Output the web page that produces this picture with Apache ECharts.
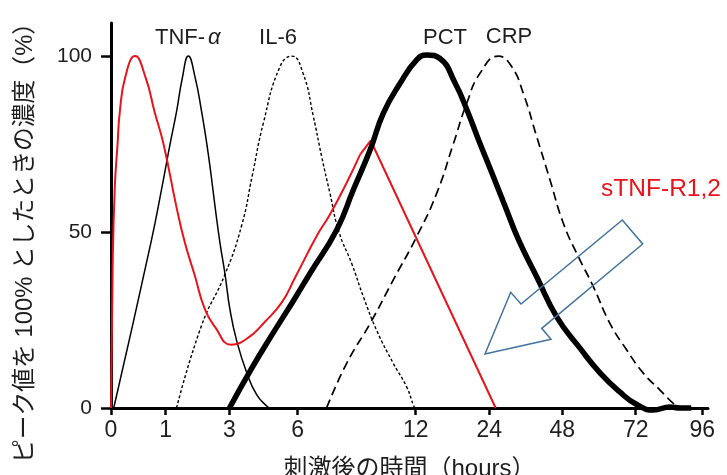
<!DOCTYPE html>
<html>
<head>
<meta charset="utf-8">
<script src="https://cdn.jsdelivr.net/npm/echarts@6/dist/echarts.min.js"></script>
<style>
  html, body { margin: 0; padding: 0; background: #ffffff; }
  #chart { width: 727px; height: 475px; }
</style>
</head>
<body>
<div id="chart"></div>
<script>
// Time after stimulation (hours) shown on the axis
const hourTicks = [0, 1, 3, 6, 12, 24, 48, 72, 96];
const yTicks = [0, 50, 100];

// Concentration relative to peak (%), as [hours, percent]
const sTnfR = [
  [0, 0], [0.03, 40], [0.07, 63], [0.12, 75], [0.16, 84], [0.26, 94], [0.44, 100],
  [0.63, 94], [0.80, 84], [0.96, 75], [1.34, 57], [1.6, 47], [1.9, 38],
  [2.23, 28], [2.55, 23], [3.07, 18], [3.83, 20], [4.56, 24.5], [5.3, 30], [5.88, 37],
  [6.98, 49], [7.64, 55], [8.49, 64], [9.17, 72], [9.71, 76], [26.1, 0]
];
const sTnfRKink = 23; // from here on the curve is drawn as straight segments

const tnfAlpha = [
  [0.05, 0], [0.73, 47], [0.94, 63.4], [1.13, 74.7], [1.34, 84.2], [1.52, 93.7],
  [1.71, 100], [1.92, 94], [2.13, 84], [2.29, 75], [2.44, 65], [2.55, 57], [2.7, 47],
  [2.86, 38], [3.02, 28], [3.32, 19], [3.76, 10], [4.2, 3.7], [4.65, 0.5], [4.78, 0]
];

const il6 = [
  [1.34, 0], [2.13, 23.6], [2.86, 38], [3.54, 52], [4.0, 66], [4.49, 81], [5.22, 97],
  [5.74, 100], [6.28, 95], [6.79, 83], [7.22, 71.4], [7.64, 61], [8.1, 50], [8.75, 41],
  [9.34, 31.6], [10.02, 22], [10.86, 12.7], [11.54, 6], [11.91, 0.5], [12, 0]
];

const pct = [
  [3, 0], [3.98, 11.3], [4.86, 20.7], [5.88, 31.2], [6.63, 38.3], [7.98, 50.6],
  [8.83, 62], [9.68, 73.3], [10.35, 83.7], [11.2, 92.2], [12.16, 98.9], [13.79, 100.3],
  [15.96, 99.3], [18.46, 92.2], [20.36, 84.7], [22.27, 76.1], [24.89, 66.7], [29.26, 57.2],
  [33.67, 47.7], [39.58, 37.3], [46.16, 25.9], [53.79, 17], [60.33, 10], [66.87, 4.5],
  [72.36, 1], [78.34, -0.6], [84.36, 0.3], [88, 0], [92, 0]
];

const crp = [
  [7.47, 0], [8.49, 12.7], [9.68, 24], [10.86, 36.4], [12.16, 48.7], [15.42, 61],
  [18.13, 75], [20.32, 86.6], [22.48, 95.1], [26.96, 100], [31.36, 97], [35.18, 89.4],
  [39.58, 77.1], [43.96, 64.8], [48.33, 52.5], [52.97, 43.5], [58.14, 34.5], [63.6, 24],
  [69.06, 16.5], [74.74, 9.9], [80.76, 5.1], [85.55, 1.3], [88, 0]
];

// The time axis is hand-stretched: each hour tick sits at its own position
const tickPos = [0, 54.7, 118.5, 186.7, 304.7, 378.3, 451.3, 524.7, 591.3];
const AXIS_END = 597;

function toPos(h) {
  const n = hourTicks.length;
  for (let i = 0; i < n - 1; i++) {
    if (h <= hourTicks[i + 1] || i === n - 2) {
      const t = (h - hourTicks[i]) / (hourTicks[i + 1] - hourTicks[i]);
      return tickPos[i] + t * (tickPos[i + 1] - tickPos[i]);
    }
  }
  return 0;
}
const place = (pts) => pts.map(([h, v]) => [toPos(h), v]);

const FONT = "'Liberation Sans', 'Noto Sans CJK JP', sans-serif";
const INK = '#1e1e1e';
const RED = '#e8141c';

const chart = echarts.init(document.getElementById('chart'), null, { renderer: 'canvas' });

function line(name, data, style, smooth, clip) {
  return {
    type: 'line', name, data: place(data), showSymbol: false, symbol: 'none',
    smooth: smooth, clip: clip !== false, silent: true,
    lineStyle: style, z: 3
  };
}

chart.setOption({
  animation: false,
  backgroundColor: '#ffffff',
  grid: { left: 111, right: 19, top: 23, bottom: 67, containLabel: false, outerBoundsMode: 'none' },
  xAxis: {
    type: 'value', min: 0, max: AXIS_END,
    name: '刺激後の時間（hours）', nameLocation: 'middle', nameGap: 49,
    nameTextStyle: { fontFamily: FONT, fontSize: 24, color: INK },
    axisLine: { onZero: false, lineStyle: { color: '#000', width: 3 } },
    axisTick: { show: true, length: 7, customValues: tickPos, lineStyle: { color: '#000', width: 2.5 } },
    axisLabel: {
      customValues: tickPos, margin: 11, fontFamily: FONT, fontSize: 23, color: INK,
      formatter: (v) => {
        const i = tickPos.findIndex((p) => Math.abs(p - v) < 0.01);
        return i >= 0 ? String(hourTicks[i]) : '';
      }
    },
    splitLine: { show: false }
  },
  yAxis: {
    type: 'value', min: 0, max: 109.4,
    axisLine: { show: true, onZero: false, lineStyle: { color: '#000', width: 3 } },
    axisTick: { show: true, length: 10, customValues: yTicks, lineStyle: { color: '#000', width: 2.5 } },
    axisLabel: { customValues: yTicks, margin: 19, fontFamily: FONT, fontSize: 21, color: INK },
    splitLine: { show: false }
  },
  series: [
    line('TNF-α', tnfAlpha, { color: '#000', width: 1.5 }, 0.5),
    line('IL-6', il6, { color: '#000', width: 1.4, type: [3, 2.2] }, 0.5),
    line('CRP', crp, { color: '#000', width: 1.7, type: [9, 5] }, 0.5),
    line('sTNF-R1,2', sTnfR.slice(0, sTnfRKink + 1), { color: RED, width: 2 }, 0.5),
    line('sTNF-R1,2', sTnfR.slice(sTnfRKink), { color: RED, width: 2 }, false),
    line('PCT', pct, { color: '#000', width: 5.5 }, 0.5, false)
  ],
  graphic: [
    { type: 'text', x: 155, y: 38, style: { text: 'TNF-', font: '22px ' + FONT, fill: INK, align: 'left', verticalAlign: 'middle' } },
    { type: 'text', x: 208, y: 38, style: { text: 'α', font: 'italic 22px ' + FONT, fill: INK, align: 'left', verticalAlign: 'middle' } },
    { type: 'text', x: 278, y: 38, style: { text: 'IL-6', font: '22px ' + FONT, fill: INK, align: 'center', verticalAlign: 'middle' } },
    { type: 'text', x: 445, y: 38, style: { text: 'PCT', font: '22px ' + FONT, fill: INK, align: 'center', verticalAlign: 'middle' } },
    { type: 'text', x: 509, y: 37, style: { text: 'CRP', font: '22px ' + FONT, fill: INK, align: 'center', verticalAlign: 'middle' } },
    { type: 'text', x: 661, y: 189, style: { text: 'sTNF-R1,2', font: '24.5px ' + FONT, fill: RED, align: 'center', verticalAlign: 'middle' } },
    {
      type: 'text', x: 25, y: 237, rotation: Math.PI / 2,
      style: { text: 'ピーク値を 100% としたときの濃度（%）', font: '23.8px ' + FONT, fill: INK, align: 'center', verticalAlign: 'middle' }
    },
    {
      type: 'polygon', z: 10,
      shape: { points: [[485, 354], [510.7, 292.3], [521, 304], [622.3, 220], [642.7, 244], [541.7, 328.3], [551, 339.3]] },
      style: { fill: 'none', stroke: '#41719c', lineWidth: 1.5 }
    }
  ]
});
</script>
</body>
</html>
